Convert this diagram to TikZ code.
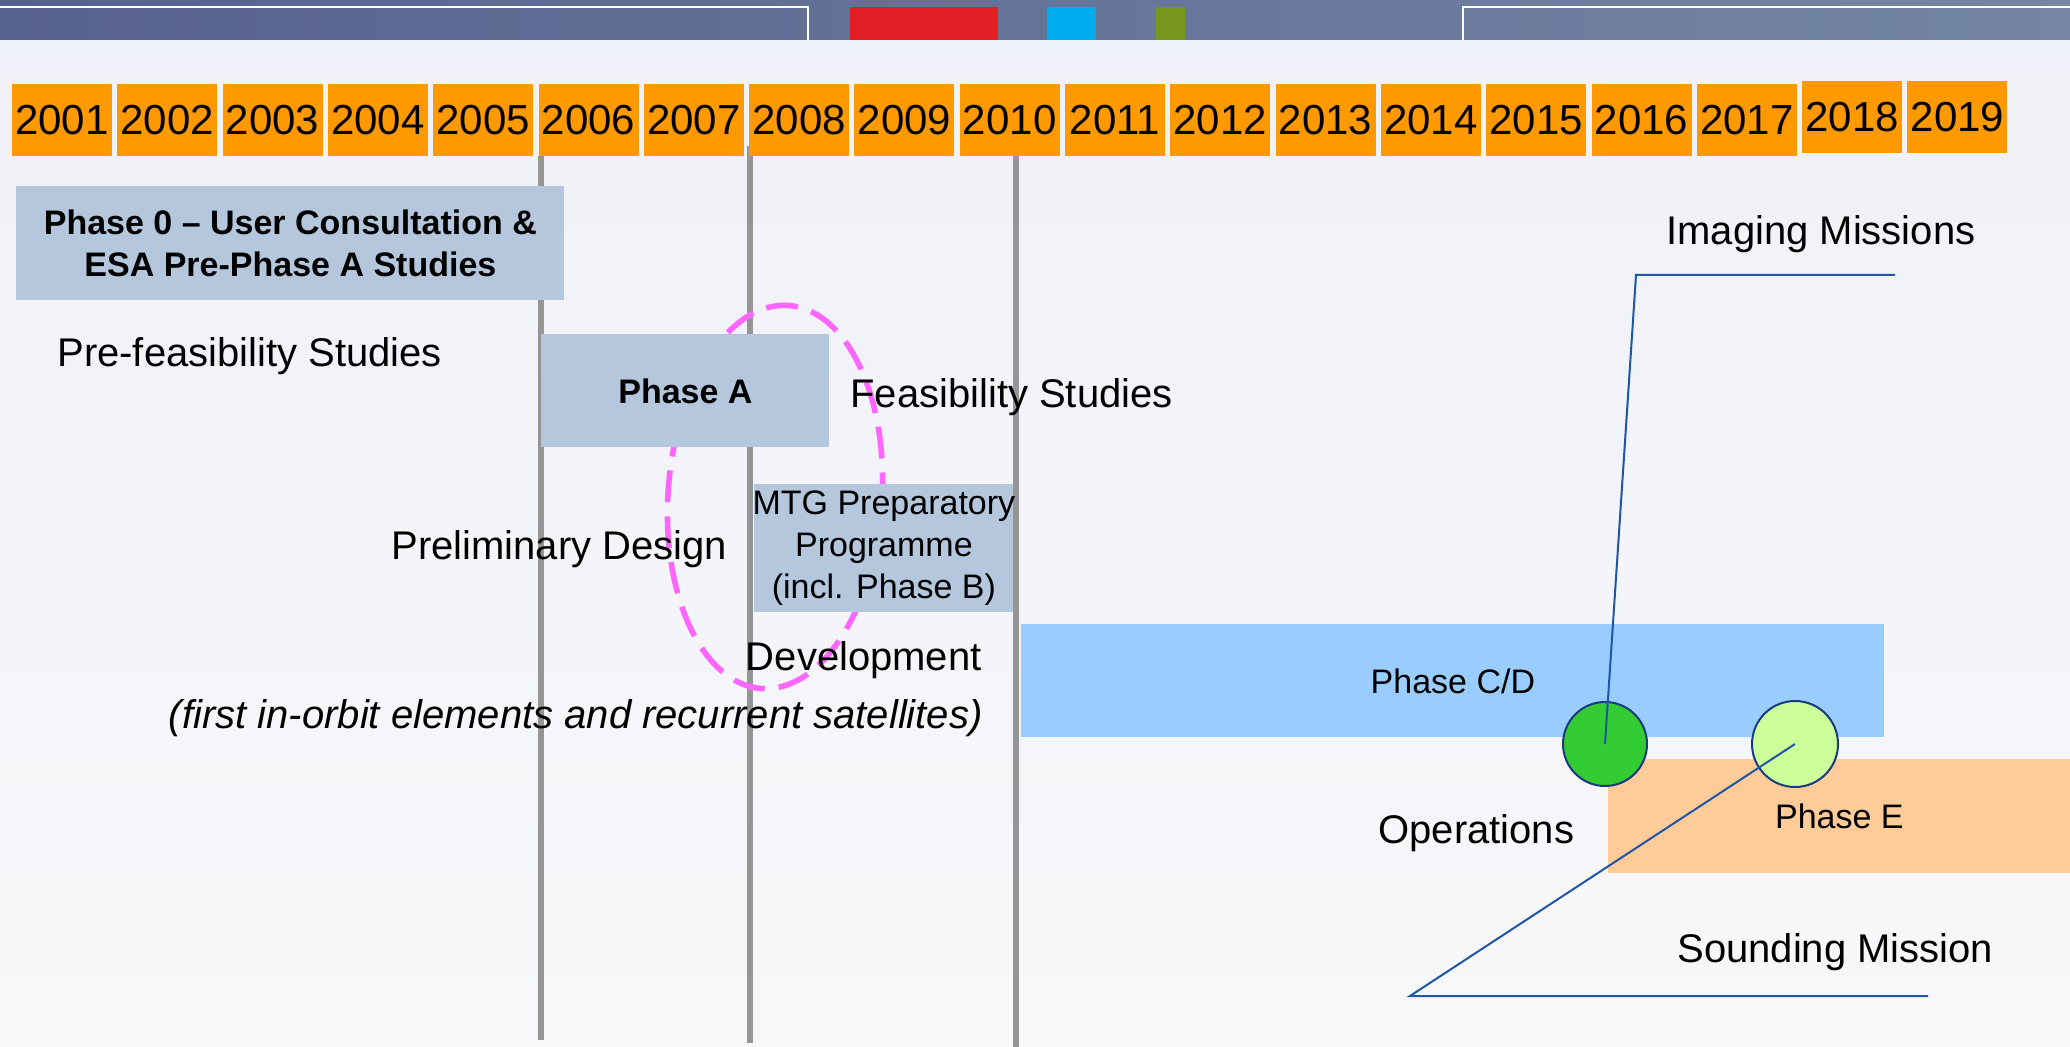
\documentclass[tikz,border=0pt]{standalone}
\usepackage{fontspec}
\setmainfont{Liberation Sans}
\usepackage{xcolor}
\usepackage{tikz}
\usetikzlibrary{shapes}
\usetikzlibrary{positioning}

\definecolor{yearorange}{HTML}{FF9900}
\definecolor{phaseblue}{HTML}{B4C7DD}
\definecolor{cdblue}{HTML}{99CCFF}
\definecolor{epeach}{HTML}{FFCC99}
\definecolor{darkgreen}{HTML}{33CC33}
\definecolor{lightgreen}{HTML}{CCFF99}
\definecolor{leaderblue}{HTML}{1F55A5}
\definecolor{rimblue}{HTML}{1A3A80}
\definecolor{linegrey}{HTML}{959595}
\definecolor{loopmagenta}{HTML}{FF66FF}
\definecolor{bandleft}{HTML}{56628E}
\definecolor{bandright}{HTML}{7486A4}
\definecolor{bandred}{HTML}{E31E24}
\definecolor{bandcyan}{HTML}{00AEEF}
\definecolor{bandolive}{HTML}{76961E}
\definecolor{skytop}{HTML}{EFF1F8}
\definecolor{skybottom}{HTML}{F8F8FA}

\newcommand{\notesize}{\fontsize{20}{24}\selectfont}
\newcommand{\yearsize}{\fontsize{21}{25}\selectfont}
\newcommand{\boxsize}{\fontsize{17}{21}\selectfont}

\tikzset{
  year/.style = {fill=yearorange, minimum width=50pt, minimum height=36pt, inner sep=0pt, outer sep=0pt, font=\yearsize},
  phase/.style = {fill=phaseblue, inner sep=0pt, align=center, font=\boxsize},
  note/.style = {inner sep=0pt, font=\notesize},
  mission/.style = {circle, draw=rimblue, line width=1pt, inner sep=0pt},
  leader/.style = {draw=leaderblue, line width=1pt},
  gate/.style = {draw=linegrey, line width=3pt}
}

\begin{document}
\begin{tikzpicture}[x=0.5pt, y=-0.5pt]
    \useasboundingbox (0,0) rectangle (2070,1047);
    % sky and header band
    \shade [top color=skytop, bottom color=skybottom] (0,0) rectangle (2070,1047);
    \shade [left color=bandleft, right color=bandright] (0,0) rectangle (2070,40);
    \draw [white, line width=1pt] (0,7) -- (808,7) -- (808,40);
    \draw [white, line width=1pt] (1463,40) -- (1463,7) -- (2070,7);
    \fill [bandred] (850,7) rectangle (998,40);
    \fill [bandcyan] (1047,7) rectangle (1096,40);
    \fill [bandolive] (1156,7) rectangle (1185,40);

    % milestone lines
    \draw [gate] (541,156) -- (541,1040);
    \draw [gate] (750,146) -- (750,1043);
    \draw [gate] (1016,151) -- (1016,1047);

    % years
    \node (y2001) [year, anchor=north west] at (12,84) {2001};
    \node (y2002) [year, right=2.65pt of y2001] {2002};
    \node (y2003) [year, right=2.65pt of y2002] {2003};
    \node (y2004) [year, right=2.65pt of y2003] {2004};
    \node (y2005) [year, right=2.65pt of y2004] {2005};
    \node (y2006) [year, right=2.65pt of y2005] {2006};
    \node (y2007) [year, right=2.65pt of y2006] {2007};
    \node (y2008) [year, right=2.65pt of y2007] {2008};
    \node (y2009) [year, right=2.65pt of y2008] {2009};
    \node (y2010) [year, right=2.65pt of y2009] {2010};
    \node (y2011) [year, right=2.65pt of y2010] {2011};
    \node (y2012) [year, right=2.65pt of y2011] {2012};
    \node (y2013) [year, right=2.65pt of y2012] {2013};
    \node (y2014) [year, right=2.65pt of y2013] {2014};
    \node (y2015) [year, right=2.65pt of y2014] {2015};
    \node (y2016) [year, right=2.65pt of y2015] {2016};
    \node (y2017) [year, right=2.65pt of y2016] {2017};
    \node (y2018) [year, right=2.65pt of y2017, yshift=1.5pt] {2018};
    \node (y2019) [year, right=2.65pt of y2018] {2019};

    % dashed loop behind the early phases
    \draw [loopmagenta, line width=2.8pt, dash pattern=on 16pt off 7pt, rotate around={-4:(775,497)}]
        (775,497) ellipse [x radius=53.5pt, y radius=96pt];

    % phases
    \node (phase0) [phase, font=\boxsize\bfseries, minimum width=274pt, minimum height=57pt, anchor=north west] at (16,186)
        {Phase 0 \textendash{} User Consultation \&\\ESA Pre-Phase A Studies};
    \node (phaseA) [phase, font=\boxsize\bfseries, minimum width=144pt, minimum height=56.5pt, anchor=north west] at (541,334) {Phase A};
    \node (mtg) [phase, minimum width=129.5pt, minimum height=64pt, anchor=north west] at (754,484)
        {\makebox[129.5pt]{MTG Preparatory}\\Programme\\(incl. Phase B)};
    \node (phaseCD) [fill=cdblue, minimum width=431.5pt, minimum height=56.5pt, inner sep=0pt, font=\boxsize, anchor=north west] at (1021,624) {Phase C/D};
    \node (phaseE) [fill=epeach, minimum width=231pt, minimum height=57pt, inner sep=0pt, font=\boxsize, anchor=north west] at (1608,759) {Phase E};

    % missions
    \node (imgdot) [mission, fill=darkgreen, minimum size=42pt] at (1605,744) {};
    \node (snddot) [mission, fill=lightgreen, minimum size=43pt] at (1795,744) {};
    \coordinate (imgknee) at (1636,275);
    \coordinate (imgend) at (1895,275);
    \coordinate (sndknee) at (1410,996);
    \coordinate (sndend) at (1928,996);
    \draw [leader] (imgend) -- (imgknee) -- (imgdot.center);
    \draw [leader] (snddot.center) -- (sndknee) -- (sndend);

    % labels
    \node (prefeas) [note, anchor=base west] at (57,367) {Pre-feasibility Studies};
    \node (feas) [note, anchor=base west] at (850,408) {Feasibility Studies};
    \node (prelim) [note, anchor=base west] at (391,559) {Preliminary Design};
    \node (devel) [note, anchor=base east] at (982,670) {Development};
    \node (orbit) [note, font=\notesize\itshape, anchor=base east] at (983,728) {(first in-orbit elements and recurrent satellites)};
    \node (ops) [note, anchor=base west] at (1378,843) {Operations};
    \node (imaging) [note, anchor=base west] at (1666,245) {Imaging Missions};
    \node (sounding) [note, anchor=base west] at (1677,962) {Sounding Mission};
\end{tikzpicture}
\end{document}
